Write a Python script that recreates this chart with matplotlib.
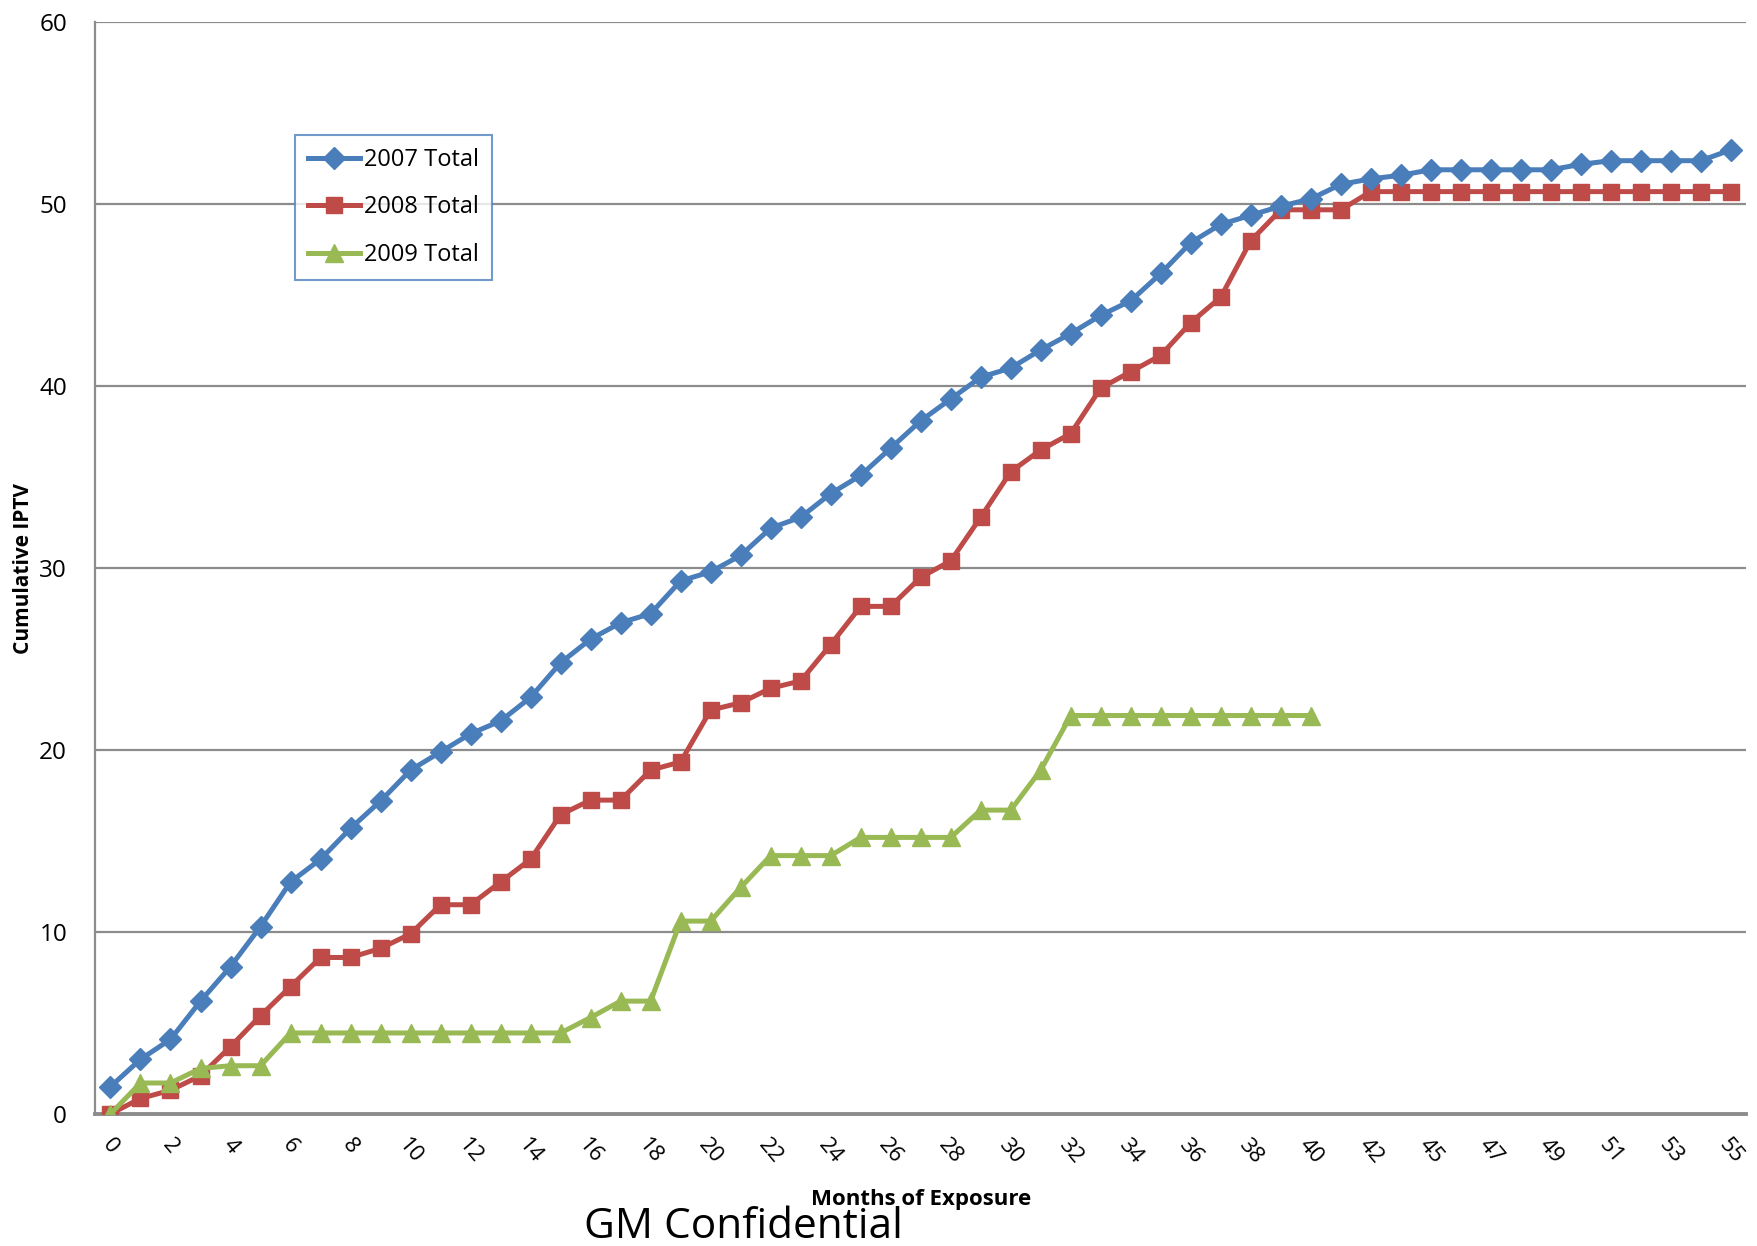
import matplotlib
matplotlib.use("Agg")
import matplotlib.pyplot as plt
import numpy as np

months = [str(m) for m in list(range(0, 44)) + list(range(45, 56))]

total_2007 = [1.5, 3.0, 4.1, 6.2, 8.1, 10.3, 12.75, 14.0, 15.7, 17.2,
              18.9, 19.9, 20.9, 21.6, 22.9, 24.8, 26.1, 27.0, 27.5, 29.3,
              29.8, 30.7, 32.2, 32.8, 34.1, 35.1, 36.6, 38.1, 39.3, 40.5,
              41.0, 42.0, 42.9, 43.9, 44.7, 46.2, 47.9, 48.9, 49.4, 49.9,
              50.3, 51.1, 51.4, 51.6, 51.9, 51.9, 51.9, 51.9, 51.9, 52.2,
              52.4, 52.4, 52.4, 52.4, 53.0]

total_2008 = [0.0, 0.85, 1.3, 2.1, 3.7, 5.4, 7.0, 8.6, 8.6, 9.1,
              9.9, 11.5, 11.5, 12.75, 14.0, 16.45, 17.25, 17.25, 18.9, 19.35,
              22.2, 22.6, 23.4, 23.8, 25.8, 27.9, 27.9, 29.5, 30.4, 32.8,
              35.3, 36.5, 37.4, 39.9, 40.8, 41.7, 43.5, 44.9, 48.0, 49.7,
              49.7, 49.7, 50.7, 50.7, 50.7, 50.7, 50.7, 50.7, 50.7, 50.7,
              50.7, 50.7, 50.7, 50.7, 50.7]

total_2009 = [0.0, 1.7, 1.7, 2.5, 2.65, 2.65, 4.45, 4.45, 4.45, 4.45,
              4.45, 4.45, 4.45, 4.45, 4.45, 4.45, 5.3, 6.2, 6.2, 10.6,
              10.6, 12.45, 14.2, 14.2, 14.2, 15.2, 15.2, 15.2, 15.2, 16.7,
              16.7, 18.9, 21.9, 21.9, 21.9, 21.9, 21.9, 21.9, 21.9, 21.9,
              21.9]

y_ticks = [0, 10, 20, 30, 40, 50, 60]

fam = ["Open Sans", "DejaVu Sans"]
plt.rcParams["font.family"] = fam

fig = plt.figure(figsize=(17.57, 12.46), dpi=100)
ax = fig.add_axes([0.054, 0.106, 0.9397, 0.876])

x = np.arange(len(months))
ax.plot(x[:len(total_2007)], total_2007, color="#4A7EBB", lw=3.6, marker="D",
        ms=11.5, label="2007 Total", zorder=4)
ax.plot(x[:len(total_2008)], total_2008, color="#BE4B48", lw=3.6, marker="s",
        ms=12, label="2008 Total", zorder=3)
ax.plot(x[:len(total_2009)], total_2009, color="#98B954", lw=3.6, marker="^",
        ms=13, label="2009 Total", zorder=5)

ax.set_xlim(-0.52, len(months) - 0.5)
ax.set_ylim(0, 60)
ax.set_yticks(y_ticks)
ax.set_yticklabels([str(v) for v in y_ticks], fontsize=17.5)
ax.set_xticks(x[::2])
ax.set_xticklabels(months[::2], rotation=-50, fontsize=16,
                   ha="center", va="top", rotation_mode="default")
ax.tick_params(axis="both", length=0)
ax.tick_params(axis="x", pad=15)
ax.tick_params(axis="y", pad=20)

for v in y_ticks[1:]:
    ax.axhline(v, color="#8C8C8C", lw=1.6, zorder=1)

for s in ["top", "right"]:
    ax.spines[s].set_visible(False)
ax.spines["left"].set_color("#8C8C8C")
ax.spines["left"].set_linewidth(1.6)
ax.spines["bottom"].set_color("#8C8C8C")
ax.spines["bottom"].set_linewidth(2.8)

ax.set_ylabel("Cumulative IPTV", fontsize=15, fontweight="bold", labelpad=4)

leg = ax.legend(loc="upper left", bbox_to_anchor=(0.1215, 0.897), fontsize=17,
                frameon=True, fancybox=False, handlelength=2.2,
                handletextpad=0.15, borderpad=0.55, labelspacing=1.0,
                borderaxespad=0)
leg.get_frame().set_edgecolor("#4F81BD")
leg.get_frame().set_linewidth(1.5)

fig.text(921 / 1757, 1 - 1199 / 1246, "Months of Exposure", fontsize=16,
         fontweight="bold", ha="center", va="center")
fig.text(743 / 1757, 1 - 1227 / 1246, "GM Confidential", fontsize=30.5,
         ha="center", va="center")

fig.savefig("out.png", dpi=100)
